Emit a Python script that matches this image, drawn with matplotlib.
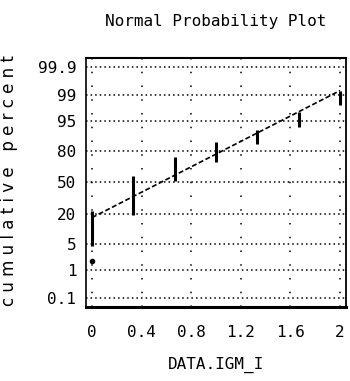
import matplotlib.pyplot as plt
from statistics import NormalDist

# values
igm = [0, 0.33, 0.67, 1.0, 1.33, 1.67, 2.0]
pct_low = [4.4, 19, 52, 71, 85, 93, 98.1]
pct_high = [22, 57, 75, 86, 92, 97, 99.3]
stray_x = [0]
stray_pct = [1.8]
fit_x = [0, 2]
fit_pct = [17.4, 99.3]
pct_ticks = [0.1, 1, 5, 20, 50, 80, 95, 99, 99.9]
pct_labels = ['0.1', '1', '5', '20', '50', '80', '95', '99', '99.9']
x_ticks = [0, 0.4, 0.8, 1.2, 1.6, 2]
x_labels = ['0', '0.4', '0.8', '1.2', '1.6', '2']


def z(p):
    return NormalDist().inv_cdf(p / 100.0)


mono = 'DejaVu Sans Mono'

fig = plt.figure(figsize=(3.5, 3.81), dpi=100)
ax = fig.add_axes([0.2457, 0.194, 0.743, 0.654])

# gridlines
ax.set_yticks([z(p) for p in pct_ticks])
ax.set_yticklabels(pct_labels, family=mono, fontsize=11.5)
ax.set_xticks(x_ticks)
ax.set_xticklabels(x_labels, family=mono, fontsize=11.5)
ax.yaxis.grid(True, color='black', linestyle=(0, (1, 2)), linewidth=1.1)
ax.xaxis.grid(True, color='black', linestyle=(0, (1, 8)), linewidth=1.1)
ax.set_axisbelow(True)
ax.tick_params(length=0)
ax.tick_params(axis='y', pad=7)
ax.tick_params(axis='x', pad=13)

# tied groups as vertical bars
ax.vlines(igm, [z(p) for p in pct_low], [z(p) for p in pct_high],
          color='black', linewidth=2.2)
ax.plot(stray_x, [z(p) for p in stray_pct], marker='o', markersize=3,
        color='black', linestyle='none')

# fitted normal line
ax.plot(fit_x, [z(p) for p in fit_pct], color='black',
        linestyle=(0, (3, 1.5)), linewidth=1.2)

ax.set_xlim(-0.048, 2.048)
ax.set_ylim(-3.33, 3.33)

ax.spines['right'].set_linewidth(1.3)
ax.spines['left'].set_linewidth(1.2)
ax.spines['top'].set_linewidth(1.5)
ax.spines['bottom'].set_linewidth(2.2)

ax.set_title('Normal Probability Plot', family=mono, fontsize=11.5, pad=23)
ax.set_xlabel('DATA.IGM_I', family=mono, fontsize=11.5, labelpad=12)
fig.text(9 / 350, 1 - 181 / 381,
         'c u m u l a t i v e   p e r c e n t',
         rotation=90, ha='center', va='center', fontsize=12)

fig.savefig('out.png', dpi=100)
